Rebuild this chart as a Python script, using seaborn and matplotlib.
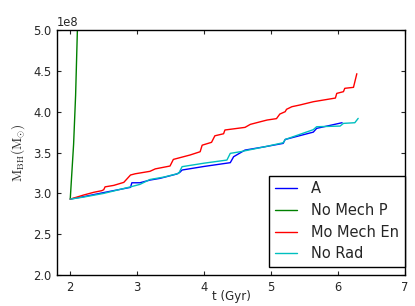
import numpy as np
import pandas as pd
import matplotlib
matplotlib.use("Agg")
import matplotlib.pyplot as plt
import seaborn as sns

# Data, masses in units of 1e8 Msun
t_A = [2.00, 2.20, 2.50, 2.75, 2.90, 2.92, 3.04, 3.19, 3.34, 3.59, 3.64, 3.67,
       4.00, 4.39, 4.44, 4.61, 4.90, 5.18, 5.21, 5.63, 5.68, 6.06]
m_A = [2.93, 2.96, 3.01, 3.05, 3.074, 3.13, 3.13, 3.163, 3.184, 3.237, 3.26, 3.286,
       3.33, 3.376, 3.449, 3.53, 3.57, 3.612, 3.66, 3.75, 3.796, 3.865]

t_P = [2.00, 2.02, 2.05, 2.08, 2.11, 2.15]
m_P = [2.93, 3.20, 3.60, 4.20, 5.10, 6.00]

t_E = [2.00, 2.20, 2.35, 2.47, 2.50, 2.52, 2.65, 2.80, 2.90, 2.97, 3.19, 3.27,
       3.49, 3.54, 3.79, 3.94, 3.97, 4.11, 4.16, 4.29, 4.31, 4.61, 4.69, 4.84,
       4.94, 5.08, 5.13, 5.21, 5.23, 5.31, 5.43, 5.63, 5.96, 5.98, 6.08, 6.10,
       6.23, 6.28]
m_E = [2.93, 2.98, 3.013, 3.033, 3.045, 3.08, 3.098, 3.135, 3.225, 3.24, 3.27, 3.30,
       3.335, 3.416, 3.47, 3.51, 3.59, 3.625, 3.705, 3.73, 3.776, 3.808, 3.845, 3.877,
       3.898, 3.915, 3.971, 4.00, 4.029, 4.061, 4.082, 4.122, 4.167, 4.224, 4.245, 4.286,
       4.298, 4.465]

t_R = [2.00, 2.20, 2.50, 2.90, 3.04, 3.19, 3.40, 3.62, 3.67, 4.00, 4.34, 4.39,
       4.54, 4.90, 5.18, 5.21, 5.63, 5.68, 6.03, 6.08, 6.25, 6.30]
m_R = [2.93, 2.955, 3.00, 3.08, 3.11, 3.17, 3.20, 3.245, 3.327, 3.37, 3.408, 3.49,
       3.51, 3.57, 3.62, 3.66, 3.78, 3.816, 3.824, 3.857, 3.865, 3.918]

labels = ["A", "No Mech P", "Mo Mech En", "No Rad"]
colors = ["#0000ff", "#008000", "#ff0000", "#00bfbf"]

frames = []
for lab, t, m in zip(labels, [t_A, t_P, t_E, t_R], [m_A, m_P, m_E, m_R]):
    frames.append(pd.DataFrame({"t": t, "M": np.array(m) * 1e8, "run": lab}))
df = pd.concat(frames, ignore_index=True)

sns.set_style("white")
plt.rcParams["font.family"] = ["DejaVu Sans"]
plt.rcParams["mathtext.fontset"] = "cm"
plt.rcParams["xtick.direction"] = "in"
plt.rcParams["ytick.direction"] = "in"

fig = plt.figure(figsize=(4.15, 3.06), dpi=100)
ax = fig.add_axes([0.137, 0.101, 0.839, 0.801])

sns.lineplot(data=df, x="t", y="M", hue="run", hue_order=labels,
             palette=colors, sort=False, estimator=None, units="run",
             linewidth=1.0, ax=ax)

ax.set_xlim(1.8, 7.0)
ax.set_ylim(2.0e8, 5.0e8)
ax.set_xticks([2, 3, 4, 5, 6, 7])
ax.set_yticks(np.arange(2.0e8, 5.01e8, 0.5e8))
ax.ticklabel_format(axis="y", style="sci", scilimits=(0, 0))
ax.yaxis.get_offset_text().set_fontsize(8.3)
ax.tick_params(axis="both", which="both", direction="in", length=3, width=0.8,
               labelsize=8.3, top=True, right=True, bottom=True, left=True, pad=4)
for s in ax.spines.values():
    s.set_color("black")
    s.set_linewidth(1.0)

ax.set_xlabel("t (Gyr)", fontsize=8.5)
ax.xaxis.set_label_coords(0.5, -0.062)
ax.set_ylabel(r"$\rm{M_{BH} (M_{\odot})}$", fontsize=9.5)
ax.yaxis.set_label_coords(-0.086, 0.5)

leg = ax.legend(loc="lower right", bbox_to_anchor=(1.0, 0.033), fontsize=10.5,
                fancybox=False, framealpha=1, edgecolor="black", borderaxespad=0,
                handlelength=1.5, handletextpad=1.0, labelspacing=0.45,
                borderpad=0.4)
leg.get_frame().set_linewidth(1.0)
for line in leg.get_lines():
    line.set_linewidth(1.0)

fig.savefig("out.png", dpi=100)
